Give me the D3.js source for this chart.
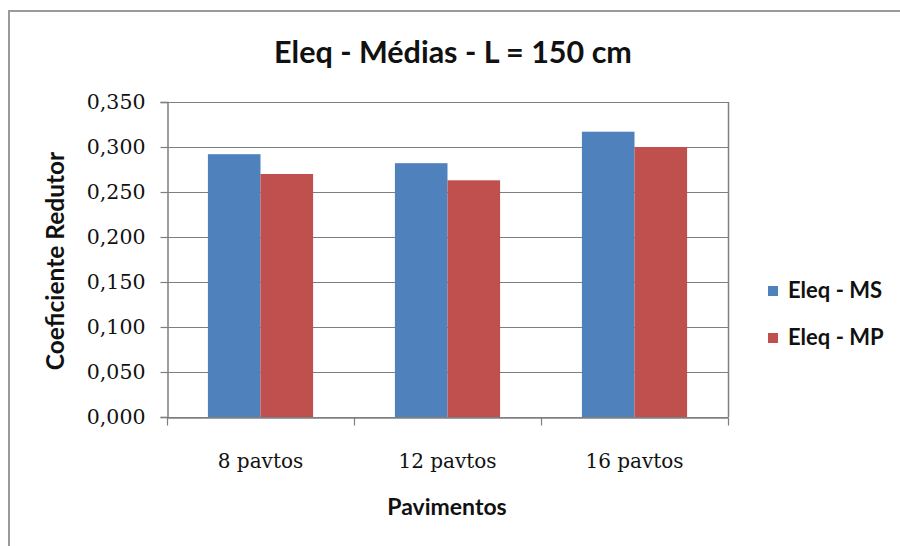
<!DOCTYPE html>
<html>
<head>
<meta charset="utf-8">
<script src="https://cdn.jsdelivr.net/npm/d3@7"></script>
<style>
  html, body { margin: 0; padding: 0; background: #fff; overflow: hidden; }
  svg { display: block; }
</style>
</head>
<body>
<svg id="chart" width="900" height="546"></svg>
<script>
const categories = ["8 pavtos", "12 pavtos", "16 pavtos"];
const seriesNames = ["Eleq - MS", "Eleq - MP"];
const msValues = [0.292, 0.282, 0.317];
const mpValues = [0.270, 0.263, 0.300];
const yTicks = [0, 0.05, 0.10, 0.15, 0.20, 0.25, 0.30, 0.35];
const colors = ["#4F81BD", "#C0504D"];
const titleText = "Eleq - Médias - L = 150 cm";
const yTitle = "Coeficiente Redutor";
const xTitle = "Pavimentos";

const svg = d3.select("#chart");
const sans = "Lato, 'Open Sans', sans-serif";
const serif = "'DejaVu Serif', 'Liberation Serif', serif";

// outer chart frame: only top and left edges are visible in the picture
svg.append("path")
  .attr("d", "M9,546 V11 H900")
  .attr("fill", "none").attr("stroke", "#9a9a9a").attr("stroke-width", 2);

const plot = { left: 167, right: 728, top: 102, bottom: 417 };

const x0 = d3.scaleBand().domain(categories)
  .range([plot.left, plot.right])
  .paddingInner(0.4375).paddingOuter(0.21875);
const x1 = d3.scaleBand().domain(seriesNames)
  .range([0, x0.bandwidth()]).padding(0);
const y = d3.scaleLinear().domain([0, 0.35]).range([plot.bottom, plot.top]);

const fmt = v => d3.format(".3f")(v).replace(".", ",");

// gridlines
svg.append("g").selectAll("line").data(yTicks).join("line")
  .attr("x1", plot.left).attr("x2", plot.right)
  .attr("y1", d => Math.round(y(d)) + 0.5).attr("y2", d => Math.round(y(d)) + 0.5)
  .attr("stroke", "#7f7f7f").attr("stroke-width", 1.2);

// right border of plot area
svg.append("line")
  .attr("x1", plot.right + 0.5).attr("x2", plot.right + 0.5)
  .attr("y1", plot.top).attr("y2", plot.bottom)
  .attr("stroke", "#7f7f7f").attr("stroke-width", 1.5);

// bars
const data = categories.map((c, i) => ({ cat: c, vals: [msValues[i], mpValues[i]] }));
svg.append("g").selectAll("g").data(data).join("g")
  .attr("transform", d => `translate(${x0(d.cat)},0)`)
  .selectAll("rect").data(d => d.vals.map((v, j) => ({ s: seriesNames[j], v, j })))
  .join("rect")
  .attr("x", d => x1(d.s)).attr("width", x1.bandwidth())
  .attr("y", d => y(d.v)).attr("height", d => y(0) - y(d.v))
  .attr("fill", d => colors[d.j]);

// y axis
const yAxis = d3.axisLeft(y).tickValues(yTicks).tickFormat(fmt).tickSize(7).tickPadding(15);
const gy = svg.append("g").attr("transform", `translate(${plot.left + 0.5},0)`).call(yAxis);
gy.select(".domain").attr("stroke", "#7f7f7f").attr("stroke-width", 1.5);
gy.selectAll(".tick line").attr("stroke", "#7f7f7f").attr("stroke-width", 1.2);
gy.selectAll(".tick text").attr("font-family", serif).attr("font-size", 20.5).attr("fill", "#111");

// x axis
const xAxis = d3.axisBottom(x0).tickSize(0).tickPadding(0);
const gx = svg.append("g").attr("transform", `translate(0,${plot.bottom + 0.5})`).call(xAxis);
gx.select(".domain").attr("stroke", "#7f7f7f").attr("stroke-width", 1.5);
gx.selectAll(".tick text").attr("font-family", serif).attr("font-size", 20).attr("fill", "#111")
  .attr("dy", null).attr("y", 50);
// category boundary tick marks
const bounds = d3.range(categories.length + 1).map(i => plot.left + i * (plot.right - plot.left) / categories.length);
gx.selectAll(".bound").data(bounds).join("line").attr("class", "bound")
  .attr("x1", d => Math.round(d) + 0.5).attr("x2", d => Math.round(d) + 0.5)
  .attr("y1", 0).attr("y2", 8)
  .attr("stroke", "#7f7f7f").attr("stroke-width", 1.2);

// title
svg.append("text").attr("x", 453).attr("y", 63)
  .attr("text-anchor", "middle").attr("font-family", sans)
  .attr("font-weight", "bold").attr("font-size", 30.5).attr("fill", "#111")
  .text(titleText);

// axis titles
svg.append("text").attr("transform", "translate(64,261) rotate(-90)")
  .attr("text-anchor", "middle").attr("font-family", sans)
  .attr("font-weight", "bold").attr("font-size", 24.5).attr("fill", "#111")
  .text(yTitle);
svg.append("text").attr("x", 447).attr("y", 515)
  .attr("text-anchor", "middle").attr("font-family", sans)
  .attr("font-weight", "bold").attr("font-size", 23).attr("fill", "#111")
  .text(xTitle);

// legend
const lg = svg.append("g").selectAll("g").data(seriesNames).join("g")
  .attr("transform", (d, i) => `translate(768,${286 + i * 47})`);
lg.append("rect").attr("width", 10).attr("height", 10).attr("fill", (d, i) => colors[i]);
lg.append("text").attr("x", 20).attr("y", 12)
  .attr("font-family", sans).attr("font-weight", "bold").attr("font-size", 22).attr("fill", "#111")
  .text(d => d);
</script>
</body>
</html>
